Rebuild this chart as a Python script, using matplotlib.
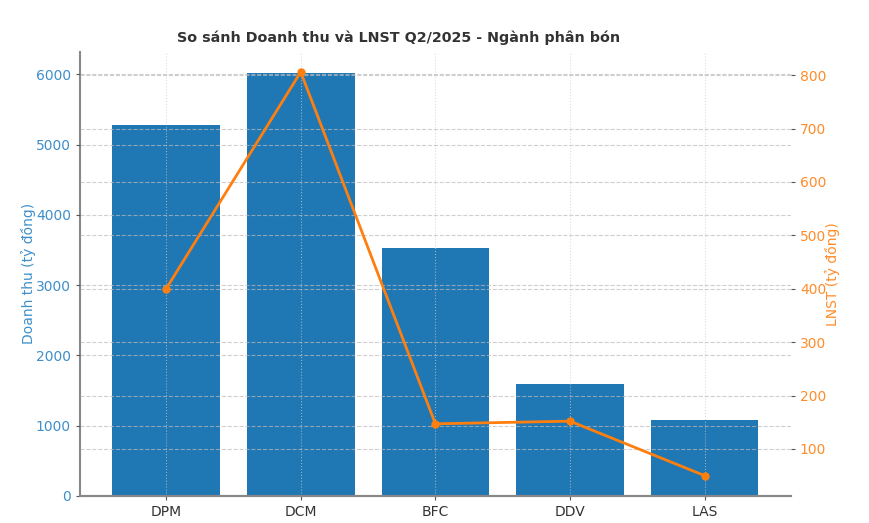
import matplotlib
matplotlib.use("Agg")
import matplotlib.pyplot as plt
import numpy as np

# du lieu Q2/2025 - nganh phan bon
companies = ["DPM", "DCM", "BFC", "DDV", "LAS"]
revenue = [5285, 6020, 3525, 1595, 1083]   # doanh thu (ty dong)
profit = [400, 806, 147, 152, 50]          # LNST (ty dong)

blue = "#1f77b4"
orange = "#ff7f0e"
blue_txt = "#3f8fca"
orange_txt = "#ff8c2a"

fig = plt.figure(figsize=(8.69, 5.23), dpi=100)
ax1 = fig.add_axes([0.092, 0.052, 0.818, 0.849])

x = np.arange(len(companies))
ax1.bar(x, revenue, width=0.8, color=blue, zorder=1)
ax1.set_xticks(x)
ax1.set_xticklabels(companies, color="#333333")
ax1.set_ylabel("Doanh thu (tỷ đồng)", color=blue_txt, fontsize=10, labelpad=0)
ax1.tick_params(axis="y", labelcolor=blue_txt, labelsize=10, color="#555555", length=3)
ax1.tick_params(axis="x", labelsize=10, color="#555555", length=3)
ax1.set_axisbelow(False)
ax1.grid(axis="y", linestyle="--", color="#bbbbbb", linewidth=0.8, alpha=0.7)
ax1.grid(axis="x", linestyle=":", color="#cccccc", linewidth=0.8, alpha=0.7)

ax2 = ax1.twinx()
ax2.plot(x, profit, color=orange, marker="o", markersize=5, linewidth=2, zorder=3)
ax2.set_ylabel("LNST (tỷ đồng)", color=orange_txt, fontsize=10, labelpad=-1)
ax2.tick_params(axis="y", labelcolor=orange_txt, labelsize=10, color="#555555", length=3)
ax2.grid(axis="y", linestyle="--", color="#bbbbbb", linewidth=0.8, alpha=0.7)

for ax in (ax1, ax2):
    ax.spines["top"].set_visible(False)
    ax.spines["right"].set_visible(False)
    ax.spines["left"].set_color("#888888")
    ax.spines["bottom"].set_color("#888888")
    ax.spines["left"].set_linewidth(1.5)
    ax.spines["bottom"].set_linewidth(1.5)
ax2.spines["left"].set_visible(False)

fig.text(0.459, 0.927, "So sánh Doanh thu và LNST Q2/2025 - Ngành phân bón",
         fontsize=10.3, fontweight="bold", color="#333333", ha="center", va="center")

fig.savefig("out.png", dpi=100)
